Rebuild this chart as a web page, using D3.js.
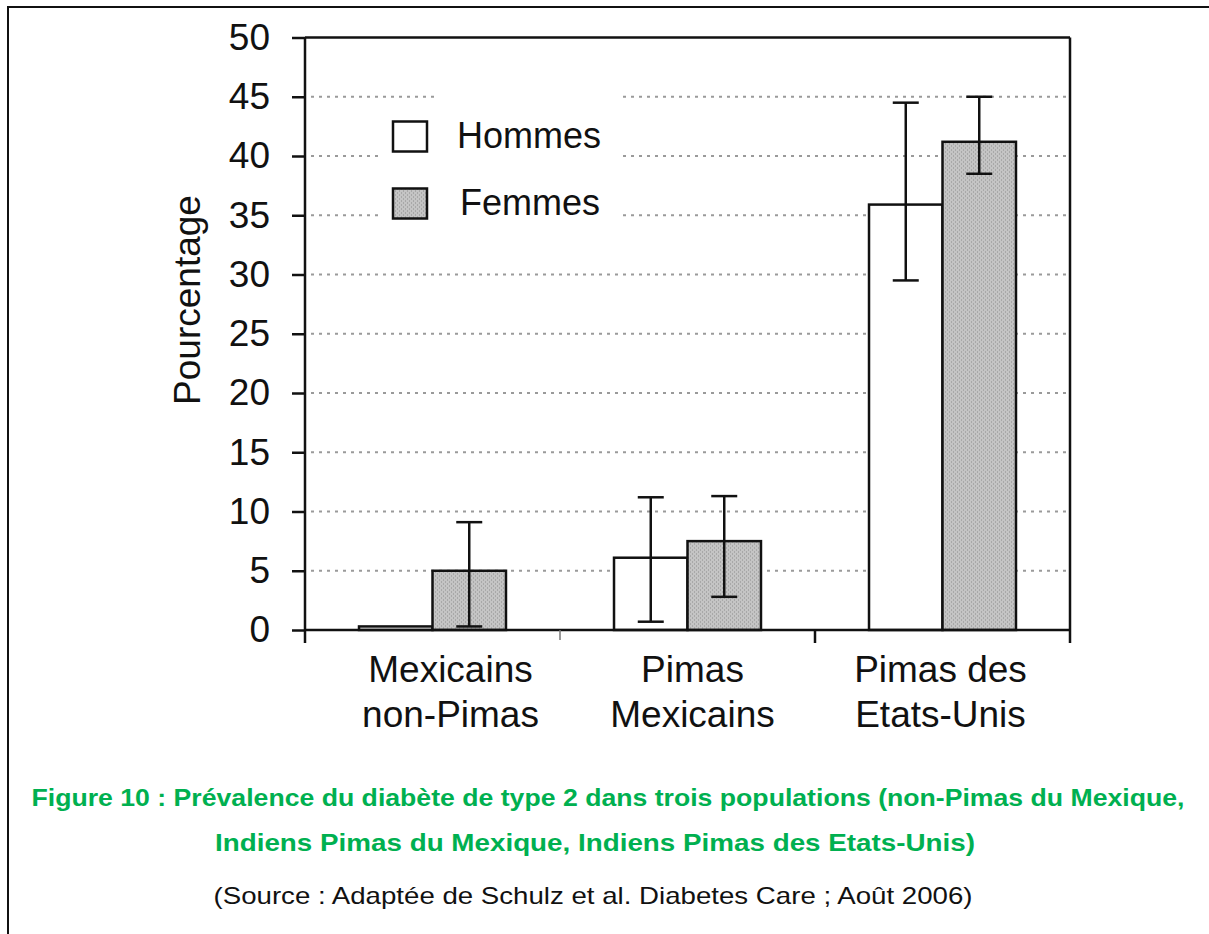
<!DOCTYPE html>
<html>
<head>
<meta charset="utf-8">
<script src="https://cdn.jsdelivr.net/npm/d3@7"></script>
<style>
  body { margin: 0; background: #fff; }
  text { font-family: "Liberation Sans", Arial, sans-serif; }
</style>
</head>
<body>
<div id="chart"></div>
<script>
// categories (two lines each) and series
var categories = ["Mexicains non-Pimas", "Pimas Mexicains", "Pimas des Etats-Unis"];
var categoryLines = [["Mexicains", "non-Pimas"], ["Pimas", "Mexicains"], ["Pimas des", "Etats-Unis"]];
var seriesNames = ["Hommes", "Femmes"];

// values in %
var hommes = [0.3, 6.1, 35.9];
var femmes = [5.0, 7.5, 41.2];
// error bar bounds (null = no bar)
var hommesLow = [null, 0.7, 29.5];
var hommesHigh = [null, 11.2, 44.5];
var femmesLow = [0.3, 2.8, 38.5];
var femmesHigh = [9.1, 11.3, 45.0];

var yTicks = [0, 5, 10, 15, 20, 25, 30, 35, 40, 45, 50];

var captionLines = [
  "Figure 10 : Prévalence du diabète de type 2 dans trois populations (non-Pimas du Mexique,",
  "Indiens Pimas du Mexique, Indiens Pimas des Etats-Unis)"
];
var sourceLine = "(Source : Adaptée de Schulz et al. Diabetes Care ; Août 2006)";

var W = 1209, H = 934;
var margin = { left: 305, right: 139, top: 37.5, bottom: 304 };
var width = W - margin.left - margin.right;
var height = H - margin.top - margin.bottom;

var svg = d3.select("#chart")
  .append("svg")
  .attr("width", W)
  .attr("height", H);

// stippled grey fill for Femmes
var defs = svg.append("defs");
var pat = defs.append("pattern")
  .attr("id", "stipple")
  .attr("patternUnits", "userSpaceOnUse")
  .attr("width", 4)
  .attr("height", 4);
pat.append("rect").attr("width", 4).attr("height", 4).attr("fill", "#c4c4c4");
pat.append("rect").attr("x", 0).attr("y", 0).attr("width", 1).attr("height", 1).attr("fill", "#8c8c8c");
pat.append("rect").attr("x", 2).attr("y", 2).attr("width", 1).attr("height", 1).attr("fill", "#8c8c8c");

// outer frame (continues past right / bottom edges)
svg.append("rect")
  .attr("x", 8).attr("y", 7)
  .attr("width", 1400).attr("height", 1200)
  .attr("fill", "none")
  .attr("stroke", "#111")
  .attr("stroke-width", 2);

var g = svg.append("g")
  .attr("transform", "translate(" + margin.left + "," + margin.top + ")");

var x0 = d3.scaleBand()
  .domain(categories)
  .range([0, width])
  .padding(0);

var x1 = d3.scaleBand()
  .domain(seriesNames)
  .range([0, x0.bandwidth()])
  .paddingInner(0)
  .paddingOuter(0.735);

var y = d3.scaleLinear().domain([0, 50]).range([height, 0]);

// grid lines (dotted)
g.append("g")
  .attr("class", "grid")
  .selectAll("line")
  .data(yTicks.filter(function(d) { return d > 0 && d < 50; }))
  .enter()
  .append("line")
  .attr("x1", 6)
  .attr("x2", width - 4)
  .attr("y1", function(d) { return y(d); })
  .attr("y2", function(d) { return y(d); })
  .attr("stroke", "#9a9a9a")
  .attr("stroke-width", 2)
  .attr("stroke-dasharray", "3,5");

// white area behind legend
g.append("rect")
  .attr("x", 130).attr("y", y(46.2))
  .attr("width", 185).attr("height", y(33.5) - y(46.2))
  .attr("fill", "#fff");
g.append("rect")
  .attr("x", 78).attr("y", y(43))
  .attr("width", 60).attr("height", y(33.5) - y(43))
  .attr("fill", "#fff");

// bars
var rows = categories.map(function(c, i) {
  return {
    key: c,
    values: [
      { key: "Hommes", value: hommes[i], lo: hommesLow[i], hi: hommesHigh[i] },
      { key: "Femmes", value: femmes[i], lo: femmesLow[i], hi: femmesHigh[i] }
    ]
  };
});

var fill = { Hommes: "#fff", Femmes: "url(#stipple)" };

var slice = g.selectAll(".slice")
  .data(rows)
  .enter()
  .append("g")
  .attr("class", "slice")
  .attr("transform", function(d) { return "translate(" + x0(d.key) + ",0)"; });

slice.selectAll("rect")
  .data(function(d) { return d.values; })
  .enter()
  .append("rect")
  .attr("x", function(d) { return x1(d.key); })
  .attr("width", x1.bandwidth())
  .attr("y", function(d) { return y(d.value); })
  .attr("height", function(d) { return y(0) - y(d.value); })
  .attr("fill", function(d) { return fill[d.key]; })
  .attr("stroke", "#111")
  .attr("stroke-width", 2.5);

// error bars
var err = slice.selectAll(".err")
  .data(function(d) { return d.values.filter(function(v) { return v.hi != null; }); })
  .enter()
  .append("g")
  .attr("class", "err")
  .attr("stroke", "#111")
  .attr("stroke-width", 2.5);

var cap = 13;
err.append("line")
  .attr("x1", function(d) { return x1(d.key) + x1.bandwidth() / 2; })
  .attr("x2", function(d) { return x1(d.key) + x1.bandwidth() / 2; })
  .attr("y1", function(d) { return y(d.lo); })
  .attr("y2", function(d) { return y(d.hi); });
err.append("line")
  .attr("x1", function(d) { return x1(d.key) + x1.bandwidth() / 2 - cap; })
  .attr("x2", function(d) { return x1(d.key) + x1.bandwidth() / 2 + cap; })
  .attr("y1", function(d) { return y(d.hi); })
  .attr("y2", function(d) { return y(d.hi); });
err.append("line")
  .attr("x1", function(d) { return x1(d.key) + x1.bandwidth() / 2 - cap; })
  .attr("x2", function(d) { return x1(d.key) + x1.bandwidth() / 2 + cap; })
  .attr("y1", function(d) { return y(d.lo); })
  .attr("y2", function(d) { return y(d.lo); });

// y axis
var yAxis = d3.axisLeft(y).tickValues(yTicks).tickSize(13).tickPadding(22);
var yAxisGroup = g.append("g").attr("class", "y axis").call(yAxis);
yAxisGroup.select(".domain").remove();
yAxisGroup.selectAll(".tick line").attr("stroke", "#111").attr("stroke-width", 2.5);
yAxisGroup.selectAll(".tick text")
  .attr("fill", "#111")
  .style("font-size", "37px");

// plot frame: left axis, top, right
g.append("line").attr("x1", 0).attr("x2", 0).attr("y1", 0).attr("y2", height + 13)
  .attr("stroke", "#111").attr("stroke-width", 2.5);
g.append("line").attr("x1", 0).attr("x2", width).attr("y1", 0).attr("y2", 0)
  .attr("stroke", "#111").attr("stroke-width", 2.5);
g.append("line").attr("x1", width).attr("x2", width).attr("y1", 0).attr("y2", height + 13)
  .attr("stroke", "#111").attr("stroke-width", 2.5);

// x axis
var xAxisGroup = g.append("g")
  .attr("class", "x axis")
  .attr("transform", "translate(0," + height + ")");
xAxisGroup.append("line")
  .attr("x1", 0).attr("x2", width)
  .attr("stroke", "#111").attr("stroke-width", 2.5);
xAxisGroup.selectAll(".sep")
  .data(categories.slice(1))
  .enter()
  .append("line")
  .attr("class", "sep")
  .attr("x1", function(d) { return x0(d); })
  .attr("x2", function(d) { return x0(d); })
  .attr("y1", 0)
  .attr("y2", function(d, i) { return i === 0 ? 10 : 13; })
  .attr("stroke", function(d, i) { return i === 0 ? "#777" : "#111"; })
  .attr("stroke-width", function(d, i) { return i === 0 ? 1.5 : 2.5; });

var catLabel = xAxisGroup.selectAll(".cat")
  .data(categories)
  .enter()
  .append("text")
  .attr("class", "cat")
  .attr("text-anchor", "middle")
  .attr("fill", "#111")
  .style("font-size", "37px")
  .attr("transform", function(d, i) {
    // the first label sits a bit right of its group in the original
    var shift = i === 0 ? 18 : (i === 1 ? 5 : -2);
    return "translate(" + (x0(d) + x0.bandwidth() / 2 + shift) + ",0)";
  });
catLabel.each(function(d, i) {
  var t = d3.select(this);
  categoryLines[i].forEach(function(line, j) {
    t.append("tspan").attr("x", 0).attr("y", 52 + j * 45).text(line);
  });
});

// y label
svg.append("text")
  .attr("transform", "translate(200," + 300 + ") rotate(-90)")
  .attr("text-anchor", "middle")
  .attr("fill", "#111")
  .style("font-size", "37px")
  .text("Pourcentage");

// legend
var legend = g.selectAll(".legend")
  .data(seriesNames)
  .enter()
  .append("g")
  .attr("class", "legend")
  .attr("transform", function(d, i) { return "translate(88," + (84 + i * 67) + ")"; });
legend.append("rect")
  .attr("width", 34).attr("height", 30)
  .attr("fill", function(d) { return fill[d]; })
  .attr("stroke", "#111")
  .attr("stroke-width", 2.5);
legend.append("text")
  .attr("x", function(d, i) { return i === 0 ? 64 : 67; })
  .attr("y", 26)
  .attr("fill", "#111")
  .style("font-size", "36px")
  .text(function(d) { return d; });

// caption (widths follow the original, which is stretched horizontally)
var captionWidths = [1153, 760];
svg.selectAll(".caption")
  .data(captionLines)
  .enter()
  .append("text")
  .attr("class", "caption")
  .attr("x", function(d, i) { return i === 0 ? 608 : 595; })
  .attr("y", function(d, i) { return 806 + i * 45; })
  .attr("text-anchor", "middle")
  .attr("fill", "#00b050")
  .attr("textLength", function(d, i) { return captionWidths[i]; })
  .attr("lengthAdjust", "spacingAndGlyphs")
  .style("font-size", "24px")
  .style("font-weight", "bold")
  .text(function(d) { return d; });

svg.append("text")
  .attr("x", 593)
  .attr("y", 904)
  .attr("text-anchor", "middle")
  .attr("fill", "#111")
  .attr("textLength", 759)
  .attr("lengthAdjust", "spacingAndGlyphs")
  .style("font-size", "24px")
  .text(sourceLine);
</script>
</body>
</html>
